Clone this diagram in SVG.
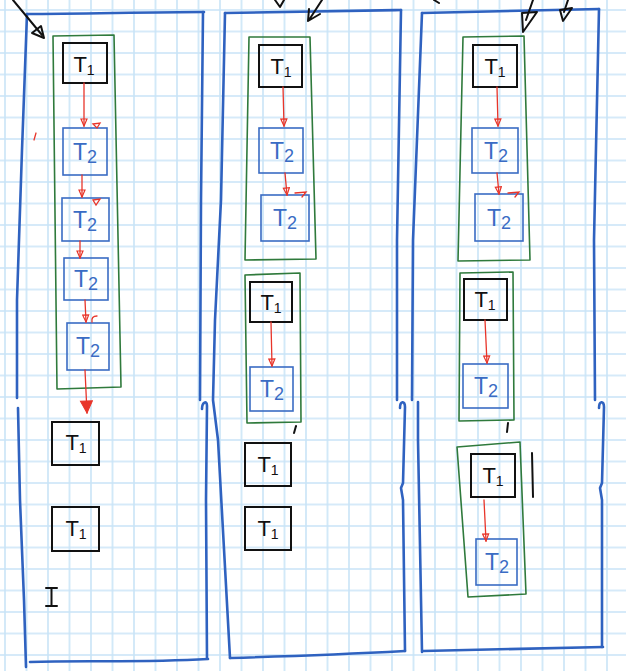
<svg xmlns="http://www.w3.org/2000/svg" width="626" height="671" viewBox="0 0 626 671">
<style>
.pan{fill:none;stroke:#2f62c0;stroke-width:2.6;stroke-linecap:round;stroke-linejoin:round}
.grn{fill:none;stroke:#2f7a3c;stroke-width:1.6;stroke-linejoin:round}
.t1{fill:none;stroke:#111;stroke-width:2}
.t2{fill:none;stroke:#3a6cc4;stroke-width:1.6}
.red{fill:none;stroke:#e8352a;stroke-width:1.3;stroke-linecap:round}
.blk{fill:none;stroke:#111;stroke-width:2;stroke-linecap:round;stroke-linejoin:round}
.lb1{font-family:"Liberation Sans",Arial,sans-serif;font-size:22px;fill:#111;text-anchor:middle}
.lb2{font-family:"Liberation Sans",Arial,sans-serif;font-size:23px;fill:#3a6cc4;text-anchor:middle}
.s1{font-size:14px}
.s2{font-size:18px}
</style>
<defs>
<pattern id="grid" x="-5.75" y="-0.75" width="21.5" height="21.5" patternUnits="userSpaceOnUse">
<path d="M0,10.75H21.5M10.75,0V21.5" stroke="#c9e4f7" stroke-width="1.6" fill="none"/>
</pattern>
<marker id="rv" viewBox="-8 -4 9 8" refX="0" refY="0" markerWidth="9" markerHeight="8" markerUnits="userSpaceOnUse" orient="auto">
<path d="M-7,-3 L0,0 L-7,3 Z" fill="none" stroke="#e8352a" stroke-width="1.2"/>
</marker>
<marker id="rf" viewBox="-13 -7 14 14" refX="0" refY="0" markerWidth="14" markerHeight="14" markerUnits="userSpaceOnUse" orient="auto">
<path d="M-12,-6 L0,0 L-12,6 Z" fill="#e8352a" stroke="#e8352a" stroke-width="1"/>
</marker>
</defs>
<rect width="626" height="671" fill="#fff"/>
<rect width="626" height="671" fill="url(#grid)"/>

<g id="panels">
<path class="pan" d="M27,14 C80,14 150,12 204,12"/>
<path class="pan" d="M27,14 L22,150 L17,300 L17,398"/>
<path class="pan" d="M18,408 L20,500 L24,600 L26,667"/>
<path class="pan" d="M30,662 C80,660 140,663 208,659"/>
<path class="pan" d="M203,12 L201,200 L200,400"/>
<path class="pan" d="M202,409 C202,402 207,400 207,406 L206,500 L207,658"/>

<path class="pan" d="M225,13 C300,12 350,11 401,10"/>
<path class="pan" d="M225,13 L221,200 L215,320 L213,400 L218,440 L230,658"/>
<path class="pan" d="M401,10 L397,240 L397,400"/>
<path class="pan" d="M400,408 C400,401 405,400 405,407 L403,483 L401,488 L403,500 L405,651"/>
<path class="pan" d="M230,658 C300,656 350,654 405,651"/>

<path class="pan" d="M422,13 C500,11 550,10 599,9"/>
<path class="pan" d="M422,13 L413,240 L412,400"/>
<path class="pan" d="M418,402 L418,440 L422,652"/>
<path class="pan" d="M599,9 L594,240 L595,400"/>
<path class="pan" d="M599,408 C599,401 604,400 604,407 L602,483 L600,488 L602,500 L602,647"/>
<path class="pan" d="M423,651 C500,649 560,648 603,647"/>
</g>

<g id="groups">
<path id="g1" class="grn" d="M53,36 L114,35 L121,387 L57,389 Z"/>
<path id="g2a" class="grn" d="M249,37 L310,37 L316,259 L245,260 Z"/>
<path id="g2b" class="grn" d="M245,275 L300,273 L301,422 L247,423 Z"/>
<path id="g3a" class="grn" d="M463,37 L524,36 L530,260 L458,261 Z"/>
<path id="g3b" class="grn" d="M460,273 L513,272 L514,420 L459,421 Z"/>
<path id="g3c" class="grn" d="M457,447 L520,442 L526,594 L468,597 Z"/>
</g>

<g id="n1"><rect class="t1" x="63" y="43" width="44" height="40"/><text class="lb1" x="84" y="72">T<tspan class="s1" dy="3">1</tspan></text></g>
<g id="n2"><rect class="t2" x="63" y="128" width="44" height="47"/><text class="lb2" x="85" y="160">T<tspan class="s2" dy="3">2</tspan></text></g>
<g id="n3"><rect class="t2" x="62" y="198" width="47" height="43"/><text class="lb2" x="85" y="228">T<tspan class="s2" dy="3">2</tspan></text></g>
<g id="n4"><rect class="t2" x="64" y="258" width="44" height="42"/><text class="lb2" x="86" y="287">T<tspan class="s2" dy="3">2</tspan></text></g>
<g id="n5"><rect class="t2" x="67" y="323" width="42" height="47"/><text class="lb2" x="88" y="354">T<tspan class="s2" dy="3">2</tspan></text></g>
<g id="n6"><rect class="t1" x="52" y="422" width="47" height="43"/><text class="lb1" x="76" y="450">T<tspan class="s1" dy="3">1</tspan></text></g>
<g id="n7"><rect class="t1" x="52" y="507" width="47" height="44"/><text class="lb1" x="76" y="536">T<tspan class="s1" dy="3">1</tspan></text></g>

<g id="n8"><rect class="t1" x="259" y="45" width="43" height="42"/><text class="lb1" x="281" y="74">T<tspan class="s1" dy="3">1</tspan></text></g>
<g id="n9"><rect class="t2" x="259" y="128" width="44" height="45"/><text class="lb2" x="282" y="159">T<tspan class="s2" dy="3">2</tspan></text></g>
<g id="n10"><rect class="t2" x="261" y="195" width="48" height="46"/><text class="lb2" x="285" y="226">T<tspan class="s2" dy="3">2</tspan></text></g>
<g id="n11"><rect class="t1" x="250" y="282" width="42" height="40"/><text class="lb1" x="271" y="310">T<tspan class="s1" dy="3">1</tspan></text></g>
<g id="n12"><rect class="t2" x="250" y="367" width="43" height="44"/><text class="lb2" x="272" y="397">T<tspan class="s2" dy="3">2</tspan></text></g>
<g id="n13"><rect class="t1" x="245" y="443" width="46" height="43"/><text class="lb1" x="268" y="472">T<tspan class="s1" dy="3">1</tspan></text></g>
<g id="n14"><rect class="t1" x="245" y="507" width="46" height="43"/><text class="lb1" x="268" y="536">T<tspan class="s1" dy="3">1</tspan></text></g>

<g id="n15"><rect class="t1" x="473" y="45" width="44" height="42"/><text class="lb1" x="495" y="74">T<tspan class="s1" dy="3">1</tspan></text></g>
<g id="n16"><rect class="t2" x="472" y="128" width="46" height="45"/><text class="lb2" x="496" y="159">T<tspan class="s2" dy="3">2</tspan></text></g>
<g id="n17"><rect class="t2" x="475" y="194" width="48" height="47"/><text class="lb2" x="499" y="226">T<tspan class="s2" dy="3">2</tspan></text></g>
<g id="n18"><rect class="t1" x="464" y="279" width="43" height="41"/><text class="lb1" x="485" y="307">T<tspan class="s1" dy="3">1</tspan></text></g>
<g id="n19"><rect class="t2" x="463" y="364" width="45" height="44"/><text class="lb2" x="486" y="394">T<tspan class="s2" dy="3">2</tspan></text></g>
<g id="n20"><rect class="t1" x="471" y="454" width="44" height="43"/><text class="lb1" x="493" y="483">T<tspan class="s1" dy="3">1</tspan></text></g>
<g id="n21"><rect class="t2" x="476" y="539" width="41" height="46"/><text class="lb2" x="497" y="570">T<tspan class="s2" dy="3">2</tspan></text></g>

<g id="connectors">
<path class="red" d="M84,83 L84,126" marker-end="url(#rv)"/>
<path class="red" d="M82,175 L82,197" marker-end="url(#rv)"/>
<path class="red" d="M80,241 L80,258" marker-end="url(#rv)"/>
<path class="red" d="M85,300 L86,322" marker-end="url(#rv)"/>
<path class="red" d="M85,370 L87,413" marker-end="url(#rf)"/>
<path class="red" d="M283,87 L284,126" marker-end="url(#rv)"/>
<path class="red" d="M285,173 L287,195" marker-end="url(#rv)"/>
<path class="red" d="M271,322 L272,366" marker-end="url(#rv)"/>
<path class="red" d="M497,87 L498,126" marker-end="url(#rv)"/>
<path class="red" d="M497,173 L499,194" marker-end="url(#rv)"/>
<path class="red" d="M485,320 L487,363" marker-end="url(#rv)"/>
<path class="red" d="M484,500 L486,541" marker-end="url(#rv)"/>
<path class="blk" d="M13,0 L42,35"/>
<path class="blk" d="M32,33 L41,26 L44,38 Z"/>
<path class="blk" d="M275,0 L280,7 L284,0"/>
<path class="blk" d="M322,0 L309,20 M308,21 L309,9 M308,21 L320,14"/>
<path class="blk" d="M533,0 L526,20"/>
<path class="blk" d="M522,13 L537,12 L523,32 Z"/>
<path class="blk" d="M568,0 L564,12"/>
<path class="blk" d="M560,10 L572,8 L563,21 Z"/>
</g>

<g id="marks">
<path class="red" d="M93,124 L100,123 L97,128 Z"/>
<path class="red" d="M93,200 L100,199 L96,205 Z"/>
<path class="red" d="M97,316 Q91,316 92,322"/>
<path class="red" d="M295,193 L306,192 L302,197"/>
<path class="red" d="M508,193 L519,192 L515,197"/>
<path class="red" d="M36,133 L34,140" stroke-width="1"/>
<path class="blk" d="M296,426 L294,433" stroke-width="1.5"/>
<path class="blk" d="M508,423 L507,432" stroke-width="1.5"/>
<path class="blk" d="M532,453 L533,497" stroke-width="1.5"/>
<path class="blk" d="M434,0 L439,3" stroke-width="1.5"/>
<path class="blk" d="M46,588 H57 M51.5,588 V606 M46,606 H57" stroke-width="2"/>
</g>
</svg>
